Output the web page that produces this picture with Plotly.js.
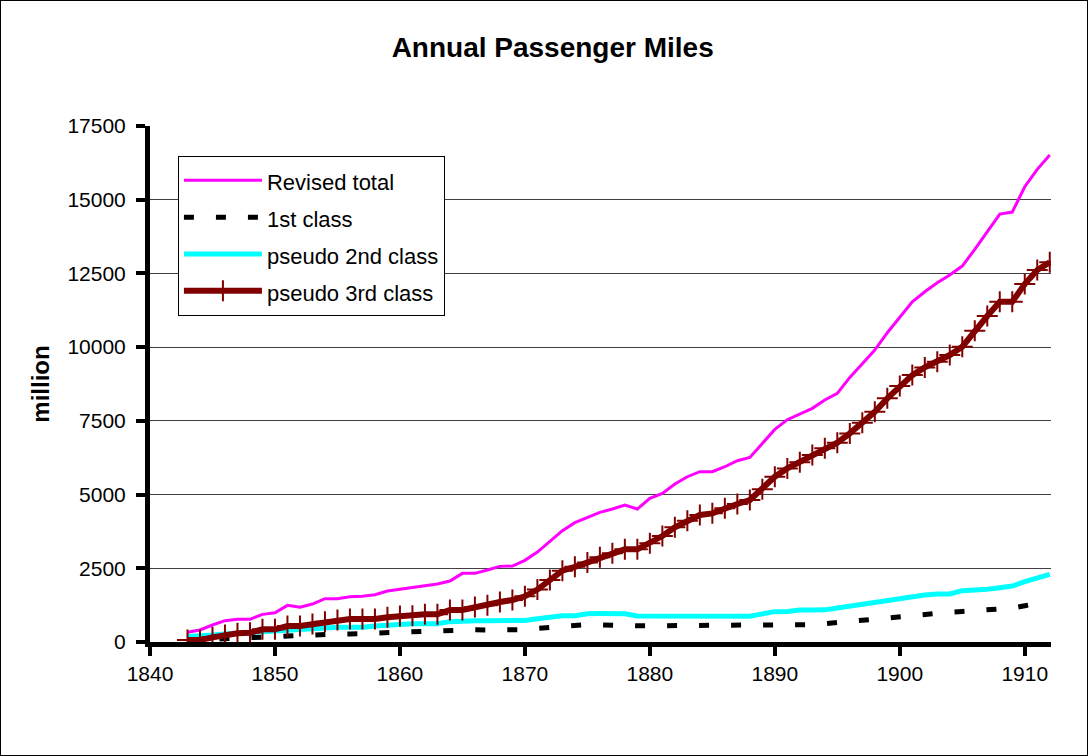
<!DOCTYPE html>
<html>
<head>
<meta charset="utf-8">
<script src="https://cdn.plot.ly/plotly-3.0.1.min.js"></script>
<style>
  html, body { margin: 0; padding: 0; background: #ffffff; }
  #wrap { position: relative; width: 1088px; height: 756px; }
  #chart { position: absolute; left: 0; top: 0; width: 1088px; height: 756px; }
  #frame { position: absolute; left: 0; top: 0; width: 1086px; height: 754px; border: 1px solid #000; pointer-events: none; }
</style>
</head>
<body>
<div id="wrap"><div id="chart"></div><div id="frame"></div></div>
<script>
const years = [1843,1844,1845,1846,1847,1848,1849,1850,1851,1852,1853,1854,1855,1856,1857,1858,1859,1860,
  1861,1862,1863,1864,1865,1866,1867,1868,1869,1870,1871,1872,1873,1874,1875,1876,1877,1878,1879,1880,
  1881,1882,1883,1884,1885,1886,1887,1888,1889,1890,1891,1892,1893,1894,1895,1896,1897,1898,1899,1900,
  1901,1902,1903,1904,1905,1906,1907,1908,1909,1910,1911,1912];

const revisedTotal = [329,407,576,723,769,769,938,994,1243,1176,1288,1469,1469,1537,1548,1605,1729,1797,
  1853,1910,1967,2069,2328,2328,2441,2565,2576,2770,3050,3402,3775,4046,4227,4397,4510,4645,4510,4872,
  5041,5357,5605,5775,5775,5944,6148,6261,6736,7210,7540,7731,7924,8206,8433,8975,9427,9902,10489,11032,
  11540,11879,12184,12445,12750,13315,13914,14513,14581,15440,16030,16515];

const firstClass = [60,80,100,120,140,150,170,190,230,240,255,265,270,275,290,320,335,345,
  350,360,385,410,415,415,410,410,410,420,460,490,530,570,590,580,560,550,550,550,
  550,550,550,550,550,550,550,550,565,575,575,580,590,620,660,710,760,800,835,865,
  910,955,985,1010,1035,1060,1085,1110,1150,1230,1310,1380];

const pseudo2nd = [190,200,235,270,295,317,350,384,407,430,463,497,497,497,497,540,576,615,
  620,620,620,690,715,720,720,720,720,730,790,840,890,890,960,965,965,960,880,875,
  875,875,875,875,875,875,875,875,955,1029,1035,1085,1085,1090,1150,1215,1275,1334,1395,1458,
  1525,1594,1627,1630,1740,1745,1790,1842,1899,2045,2160,2295];

const pseudo3rd = [68,68,158,237,294,317,430,430,543,543,610,689,746,780,780,780,836,882,
  890,938,940,1085,1085,1187,1243,1356,1424,1550,1780,2102,2420,2550,2700,2871,3006,3142,3142,3345,
  3594,3888,4114,4307,4363,4533,4680,4815,5177,5606,5888,6100,6341,6567,6758,7075,7437,7810,8263,8680,
  9053,9313,9505,9732,10014,10557,11055,11540,11540,12140,12615,12880];

const seriesNames = ['Revised total','1st class','pseudo 2nd class','pseudo 3rd class'];
const xTicks = [1840,1850,1860,1870,1880,1890,1900,1910];
const yTicks = [0,2500,5000,7500,10000,12500,15000,17500];

const legendLabel = n => '<span style="font-size:22px">' + n + '</span>';

const traces = [
  { x: years, y: revisedTotal, name: legendLabel(seriesNames[0]), type: 'scatter', mode: 'lines',
    line: { color: '#FF00FF', width: 3 } },
  { x: years, y: firstClass, name: legendLabel(seriesNames[1]), type: 'scatter', mode: 'lines',
    line: { color: '#000000', width: 5, dash: '10px,22px' } },
  { x: years, y: pseudo2nd, name: legendLabel(seriesNames[2]), type: 'scatter', mode: 'lines',
    line: { color: '#00FFFF', width: 5 } },
  { x: years, y: pseudo3rd, name: legendLabel(seriesNames[3]), type: 'scatter', mode: 'lines+markers',
    line: { color: '#800000', width: 6 },
    marker: { symbol: 'cross-thin', size: 15, color: '#800000', line: { color: '#800000', width: 2 } } }
];

const font = 'Arial, "Liberation Sans", sans-serif';

const layout = {
  width: 1088, height: 756,
  margin: { l: 150, r: 37, t: 126, b: 114 },
  paper_bgcolor: 'rgba(0,0,0,0)', plot_bgcolor: '#ffffff',
  font: { family: font, color: '#000000', size: 21 },
  title: { text: '<b>Annual Passenger Miles</b>', font: { family: font, size: 28, color: '#000' },
           x: 0.508, xref: 'container', xanchor: 'center', y: 0.938, yref: 'container', yanchor: 'middle' },
  showlegend: true,
  legend: { x: 0.031, y: 0.942, xanchor: 'left', yanchor: 'top', bgcolor: '#ffffff',
            bordercolor: '#000000', borderwidth: 1, font: { family: font, size: 26, color: '#000' },
            itemwidth: 78, tracegroupgap: 0 },
  xaxis: { range: [1840, 1912.1], tickvals: xTicks, ticktext: xTicks.map(String),
           showgrid: false, zeroline: false, showline: true, linecolor: '#000', linewidth: 5,
           ticks: 'outside', ticklen: 9, tickwidth: 4, tickcolor: '#000',
           tickfont: { family: font, size: 21, color: '#000' }, ticklabelstandoff: 0 },
  yaxis: { range: [0, 17500], tickvals: yTicks, ticktext: yTicks.map(String),
           showgrid: true, gridcolor: '#404040', gridwidth: 1, zeroline: false,
           showline: true, linecolor: '#000', linewidth: 5,
           ticks: 'outside', ticklen: 9, tickwidth: 4, tickcolor: '#000',
           tickfont: { family: font, size: 21, color: '#000' }, ticklabelstandoff: 6,
           title: { text: '<b>million</b>', font: { family: font, size: 24, color: '#000' }, standoff: 12 } }
};

Plotly.newPlot('chart', traces, layout, { displayModeBar: false, staticPlot: true });
</script>
</body>
</html>
